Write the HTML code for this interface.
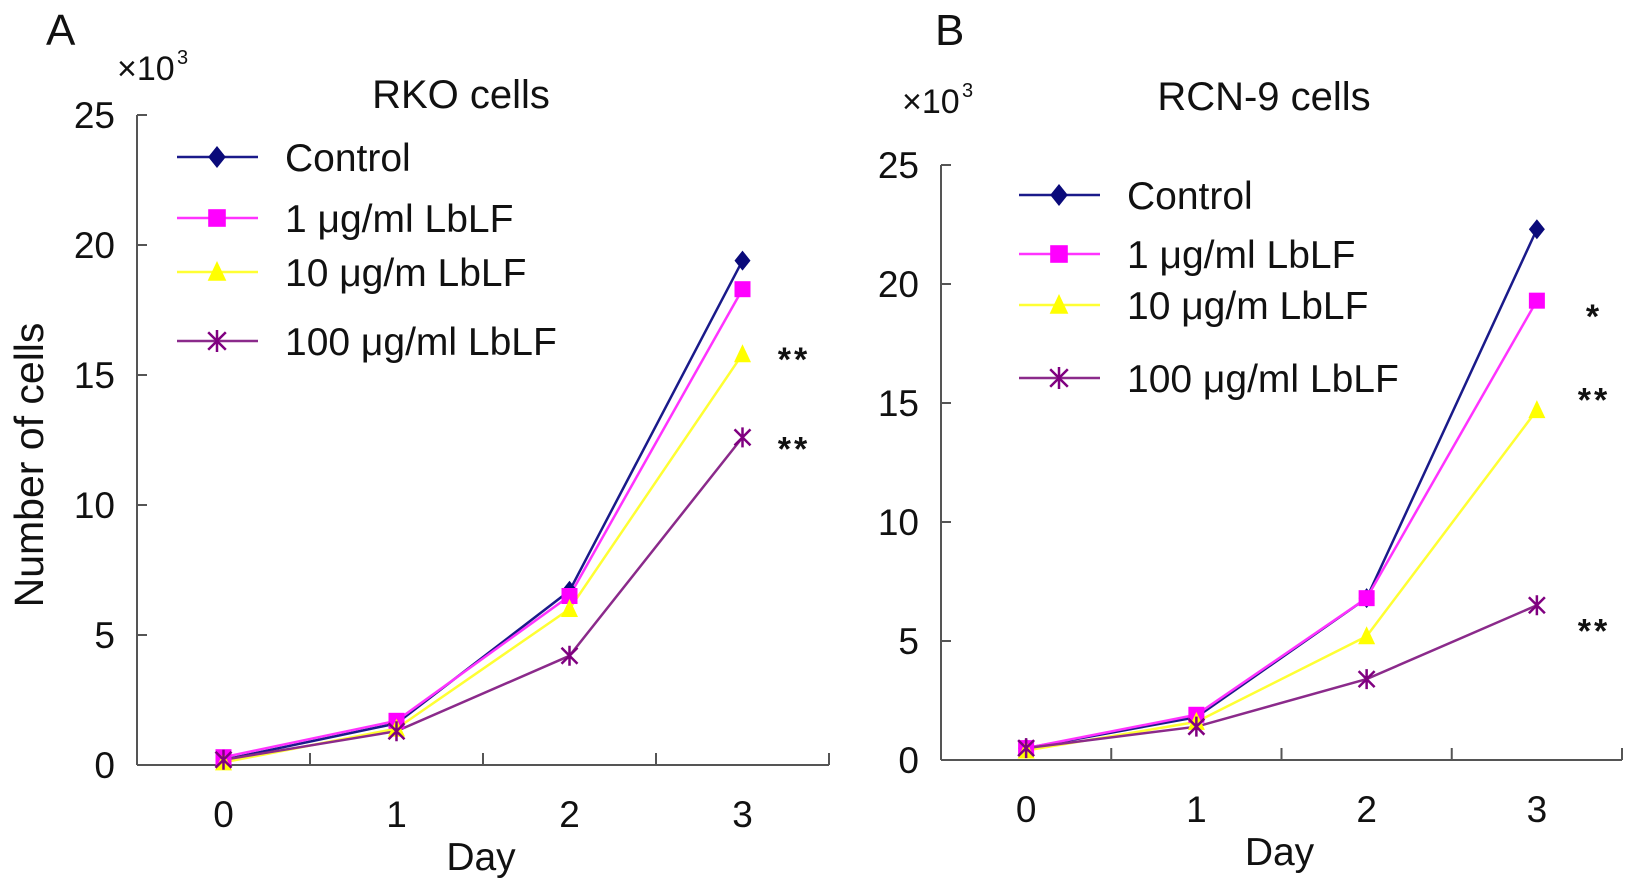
<!DOCTYPE html>
<html><head><meta charset="utf-8"><style>
html,body{margin:0;padding:0;background:#fff;}
svg text{font-family:"Liberation Sans",Arial,sans-serif;fill:#111;}
</style></head><body>
<svg id="fig" width="1636" height="889" viewBox="0 0 1636 889" xmlns="http://www.w3.org/2000/svg"></svg>
<script>
const days = ["0","1","2","3"];
const yTicks = [0,5,10,15,20,25];
const seriesNames = ["Control","1 \u03bcg/ml LbLF","10 \u03bcg/m LbLF","100 \u03bcg/ml LbLF"];
const rkoControl = [0.2,1.6,6.7,19.4];
const rko1 = [0.3,1.7,6.5,18.3];
const rko10 = [0.1,1.4,6.0,15.8];
const rko100 = [0.2,1.3,4.2,12.6];
const rcnControl = [0.5,1.8,6.8,22.3];
const rcn1 = [0.5,1.9,6.8,19.3];
const rcn10 = [0.4,1.6,5.2,14.7];
const rcn100 = [0.5,1.4,3.4,6.5];
const rkoStars = [["**",15.85],["**",12.4]];
const rcnStars = [["*",18.9],["**",15.4],["**",5.7]];

const NS="http://www.w3.org/2000/svg";
const svg=document.getElementById('fig');
const colors=["#0a0a7a","#ff00ff","#ffff00","#800080"];
const lineColors=["#1a1a8a","#ff33ff","#ffff33","#8b2a8b"];
function mk(tag,attrs,parent){const e=document.createElementNS(NS,tag);for(const k in attrs)e.setAttribute(k,attrs[k]);(parent||svg).appendChild(e);return e;}
function txt(s,attrs,parent){const e=mk('text',attrs,parent);e.textContent=s;return e;}

function marker(g,i,x,y,s){
  let m;
  if(i===0){m=mk('polygon',{points:`${x},${y-s} ${x+s*0.8},${y} ${x},${y+s} ${x-s*0.8},${y}`,fill:colors[0]},g);}
  else if(i===1){m=mk('rect',{x:x-s*0.8,y:y-s*0.8,width:s*1.6,height:s*1.6,fill:colors[1]},g);}
  else if(i===2){m=mk('polygon',{points:`${x},${y-s} ${x+s*0.85},${y+s*0.8} ${x-s*0.85},${y+s*0.8}`,fill:colors[2]},g);}
  else {m=mk('path',{d:`M${x-s*0.8},${y-s*0.8}L${x+s*0.8},${y+s*0.8}M${x+s*0.8},${y-s*0.8}L${x-s*0.8},${y+s*0.8}M${x},${y-s}L${x},${y+s}`,stroke:colors[3],'stroke-width':2.5,fill:'none'},g);}
  return m;
}

function panel(cfg){
  const g=mk('g',{});
  
  
  const y=v=>cfg.y0-(v/25)*(cfg.y0-cfg.y25);
  const bw=(cfg.xEnd-cfg.x0)/days.length;
  const x=i=>cfg.x0+bw*(i+0.5);
  const ya=mk('line',{x1:cfg.x0,y1:cfg.y25,x2:cfg.x0,y2:cfg.y0,stroke:'#555','stroke-width':2},g);
  
  const xa=mk('line',{x1:cfg.x0,y1:cfg.y0,x2:cfg.xEnd,y2:cfg.y0,stroke:'#555','stroke-width':2},g);
  
  yTicks.forEach(t=>{
    mk('line',{x1:cfg.x0,y1:y(t),x2:cfg.x0+10,y2:y(t),stroke:'#555','stroke-width':2},g);
    const l=txt(String(t),{x:cfg.x0-22,y:y(t)+13,'font-size':37,'text-anchor':'end'},g);
    
  });
  for(let i=1;i<=days.length;i++){
    const tx=cfg.x0+bw*i;
    mk('line',{x1:tx,y1:cfg.y0,x2:tx,y2:cfg.y0-12,stroke:'#555','stroke-width':2},g);
  }
  days.forEach((d,i)=>{
    const l=txt(d,{x:x(i),y:cfg.y0+62,'font-size':37,'text-anchor':'middle'},g);
    
  });
  cfg.series.forEach((arr,si)=>{
    const pts=arr.map((v,i)=>`${x(i)},${y(v)}`).join(' ');
    const pl=mk('polyline',{points:pts,fill:'none',stroke:lineColors[si],'stroke-width':2.5},g);
    
  });
  cfg.series.forEach((arr,si)=>{
    arr.forEach((v,i)=>{
      const m=marker(g,si,x(i),y(v),10);
      
    });
  });
  cfg.stars.forEach(s=>{
    const t=txt(s[0],{x:cfg.starX,y:y(s[1])+18,'font-size':34,'font-weight':'bold','text-anchor':'middle','letter-spacing':3},g);
    
  });
  cfg.legY.forEach((ly,si)=>{
    const lg=mk('g',{},g);
    
    mk('line',{x1:cfg.legX,y1:ly,x2:cfg.legX+81,y2:ly,stroke:lineColors[si],'stroke-width':2.5},lg);
    marker(lg,si,cfg.legX+40,ly,11);
    txt(seriesNames[si],{x:cfg.legX+108,y:ly+14,'font-size':39},lg);
  });
  const pl=txt(cfg.letter,{x:cfg.letterX,y:45,'font-size':44},g);
  
  const mult=txt('\u00d710',{x:cfg.multX,y:cfg.multY,'font-size':34},g);
  
  txt('3',{x:cfg.multX+60,y:cfg.multY-16,'font-size':20},g);
  const ti=txt(cfg.title,{x:cfg.titleX,y:cfg.titleY,'font-size':40,'text-anchor':'middle'},g);
  
  const xt=txt('Day',{x:(cfg.x0+cfg.xEnd)/2-2,y:cfg.y0+105,'font-size':39,'text-anchor':'middle'},g);
  
}

panel({name:'panel-a-rko',x0:137,xEnd:829,y0:765,y25:115,series:[rkoControl,rko1,rko10,rko100],
  stars:rkoStars,starX:794,legX:177,legY:[157,218,272,341],letter:'A',letterX:46,
  multX:117,multY:80,title:'RKO cells',titleX:461,titleY:108});
panel({name:'panel-b-rcn9',x0:941,xEnd:1622,y0:760,y25:165,series:[rcnControl,rcn1,rcn10,rcn100],
  stars:rcnStars,starX:1594,legX:1019,legY:[195,254,305,378],letter:'B',letterX:935,
  multX:902,multY:113,title:'RCN-9 cells',titleX:1264,titleY:110});

const yl=txt('Number of cells',{x:0,y:0,'font-size':41,'text-anchor':'middle',transform:'translate(43,465) rotate(-90)'});


</script>
</body></html>
